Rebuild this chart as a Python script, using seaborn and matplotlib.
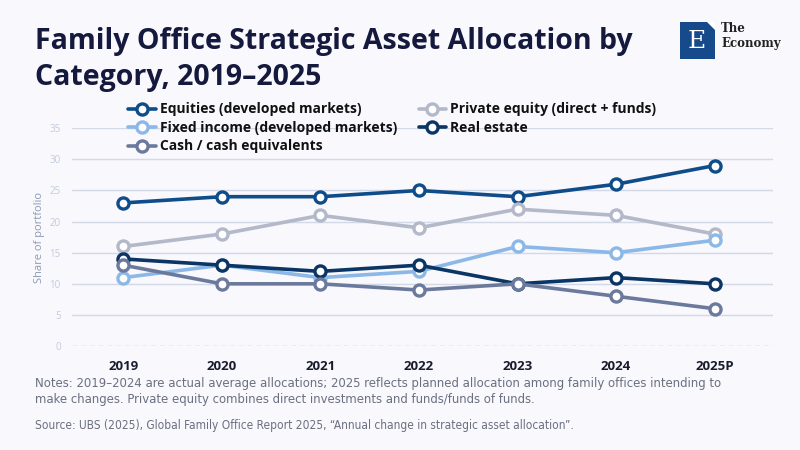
import pandas as pd
import matplotlib.pyplot as plt
import seaborn as sns
from matplotlib.patches import Rectangle, Polygon

# --- dados ---
years = ['2019', '2020', '2021', '2022', '2023', '2024', '2025P']
equities = [23, 24, 24, 25, 24, 26, 29]
private_equity = [16, 18, 21, 19, 22, 21, 18]
fixed_income = [11, 13, 11, 12, 16, 15, 17]
real_estate = [14, 13, 12, 13, 10, 11, 10]
cash = [13, 10, 10, 9, 10, 8, 6]

series = [
    ('Equities (developed markets)', equities, '#0f4c8a'),
    ('Private equity (direct + funds)', private_equity, '#b3b9c9'),
    ('Fixed income (developed markets)', fixed_income, '#8cb8e8'),
    ('Real estate', real_estate, '#0a3564'),
    ('Cash / cash equivalents', cash, '#6b7a9c'),
]

bg = '#f8f8fd'
sns.set_theme(style="white")
plt.rcParams['font.family'] = ['Open Sans', 'DejaVu Sans']

fig = plt.figure(figsize=(8, 4.5), dpi=100, facecolor=bg)
ax = fig.add_axes([0.09, 0.231, 0.876, 0.484], facecolor=bg)

x = list(range(len(years)))
for name, vals, color in series:
    df = pd.DataFrame({'x': x, 'y': vals})
    sns.lineplot(data=df, x='x', y='y', ax=ax, color=color, linewidth=2.6,
                 marker='o', markersize=8, markerfacecolor='white',
                 markeredgecolor=color, markeredgewidth=2.4, clip_on=False,
                 label=name, zorder=3)

ax.set_xlim(-0.52, 6.59)
ax.set_ylim(0, 35)
ax.set_yticks(range(0, 36, 5))
ax.set_xticks(x)
ax.set_xticklabels(years, fontsize=9.5, fontweight='bold', color='#1a1c2e')
ax.tick_params(axis='y', labelsize=7, labelcolor='#c3cbde', length=0, pad=8)
ax.tick_params(axis='x', length=0, pad=10)
ax.set_xlabel('')
ax.set_ylabel('Share of portfolio', fontsize=8, color='#8f9ab5', labelpad=3)
for y in range(5, 36, 5):
    ax.axhline(y, color='#d3d9e6', linewidth=1, zorder=1)
ax.axhline(0, color='#9aa3bb', linewidth=0.9, linestyle=(0, (4, 3)), zorder=1)
for s in ax.spines.values():
    s.set_visible(False)

# legenda em duas colunas (ordem por linhas)
h, l = ax.get_legend_handles_labels()
order = [0, 2, 4, 1, 3]
leg = fig.legend([h[i] for i in order], [l[i] for i in order], ncol=2,
                 loc='upper left', bbox_to_anchor=(0.145, 0.8), frameon=False,
                 handlelength=2.0, handletextpad=0.3, columnspacing=1.5,
                 labelspacing=0.32, prop={'weight': 'bold', 'size': 10})
for t in leg.get_texts():
    t.set_color('#111111')
ax.get_legend().remove()

# título
fig.text(0.044, 0.94, 'Family Office Strategic Asset Allocation by\nCategory, 2019\u20132025',
         fontsize=20.5, fontweight='bold', color='#14193d', va='top', linespacing=1.3)

# logo
fig.patches.append(Rectangle((680 / 800, 1 - 59 / 450), 35 / 800, 37 / 450,
                             transform=fig.transFigure, facecolor='#174a8b', edgecolor='none'))
fig.patches.append(Polygon([(707 / 800, 1 - 22 / 450), (715 / 800, 1 - 22 / 450), (715 / 800, 1 - 30 / 450)],
                           closed=True, transform=fig.transFigure, facecolor='white', edgecolor='none'))
fig.text(697 / 800, 1 - 41 / 450, 'E', fontsize=18, color='white', family='DejaVu Serif',
         ha='center', va='center')
fig.text(721 / 800, 1 - 36 / 450, 'The\nEconomy', fontsize=8.5, color='#222222', weight='bold',
         family='DejaVu Serif', va='center', linespacing=1.2)

# notas
fig.text(0.044, 1 - 391 / 450,
         'Notes: 2019\u20132024 are actual average allocations; 2025 reflects planned allocation among family offices intending to\n'
         'make changes. Private equity combines direct investments and funds/funds of funds.',
         fontsize=9.4, color='#6b7080', va='center', linespacing=1.3,
         family='DejaVu Sans', fontstretch='condensed')
fig.text(0.044, 1 - 425 / 450,
         'Source: UBS (2025), Global Family Office Report 2025, \u201cAnnual change in strategic asset allocation\u201d.',
         fontsize=8.6, color='#6b7080', va='center', family='DejaVu Sans', fontstretch='condensed')

plt.savefig('out.png', dpi=100, facecolor=bg)
